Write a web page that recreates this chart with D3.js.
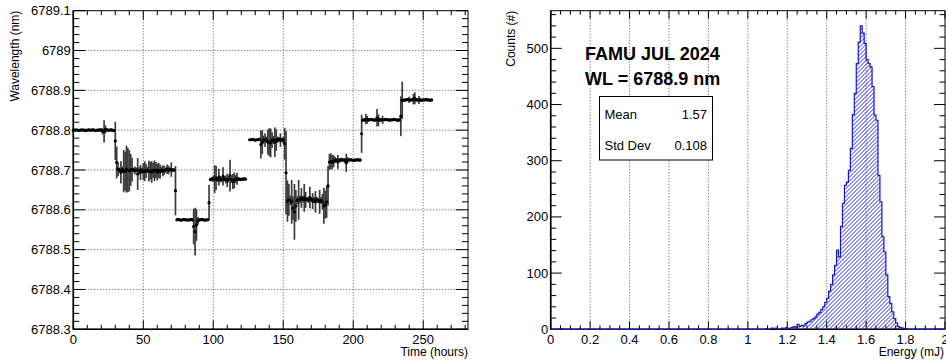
<!DOCTYPE html>
<html><head><meta charset="utf-8">
<script src="https://cdn.jsdelivr.net/npm/d3@7"></script>
<style>
body{margin:0;background:#fff}
svg{display:block;font-family:"Liberation Sans",Arial,Helvetica,sans-serif}
</style></head><body>
<svg id="c" width="946" height="360"></svg>
<script>
// wavelength vs time, one point per hour: [hour, wavelength (nm), error (nm)]
const runA = [[0,6788.800,0.002],[1,6788.800,0.002],[2,6788.801,0.002],[3,6788.800,0.002],[4,6788.799,0.002],[5,6788.800,0.002],
  [6,6788.801,0.002],[7,6788.800,0.002],[8,6788.800,0.002],[9,6788.799,0.002],[10,6788.800,0.002],[11,6788.801,0.002],
  [12,6788.800,0.002],[13,6788.800,0.002],[14,6788.801,0.003],[15,6788.800,0.002],[16,6788.799,0.002],[17,6788.800,0.003],
  [18,6788.800,0.002],[19,6788.801,0.003],[20,6788.800,0.004],[21,6788.797,0.008],[22,6788.797,0.028],[23,6788.802,0.010],
  [24,6788.801,0.004],[25,6788.800,0.003],[26,6788.800,0.002],[27,6788.801,0.003],[28,6788.800,0.003],[29,6788.799,0.004],
  [30,6788.773,0.048],[31,6788.719,0.040]]
const runB = [[32,6788.702,0.017],[33,6788.700,0.006],[34,6788.694,0.028],[35,6788.701,0.008],[36,6788.697,0.053],
  [37,6788.697,0.049],[38,6788.702,0.059],[39,6788.700,0.055],[40,6788.698,0.052],[41,6788.700,0.040],[42,6788.701,0.030],
  [43,6788.700,0.006],[44,6788.699,0.010],[45,6788.700,0.006],[46,6788.690,0.040],[47,6788.699,0.008],[48,6788.694,0.019],
  [49,6788.700,0.006],[50,6788.696,0.021],[51,6788.697,0.025],[52,6788.698,0.018],[53,6788.700,0.008],[54,6788.697,0.026],
  [55,6788.698,0.022],[56,6788.695,0.027],[57,6788.699,0.019],[58,6788.698,0.026],[59,6788.700,0.020],[60,6788.695,0.021],
  [61,6788.699,0.019],[62,6788.696,0.018],[63,6788.700,0.008],[64,6788.698,0.014],[65,6788.699,0.011],[66,6788.700,0.006],
  [67,6788.702,0.012],[68,6788.700,0.011],[69,6788.701,0.006],[70,6788.701,0.018],[71,6788.700,0.005],[72,6788.700,0.004],
  [73,6788.648,0.062]]
const runC = [[74,6788.575,0.003],[75,6788.576,0.002],[76,6788.575,0.002],[77,6788.574,0.002],[78,6788.575,0.002],
  [79,6788.576,0.002],[80,6788.575,0.002],[81,6788.575,0.003],[82,6788.574,0.002],[83,6788.575,0.002],[84,6788.576,0.002],
  [85,6788.575,0.004],[86,6788.558,0.045],[87,6788.545,0.060],[88,6788.562,0.040],[89,6788.572,0.010],[90,6788.575,0.003],
  [91,6788.575,0.002],[92,6788.576,0.002],[93,6788.575,0.002],[94,6788.574,0.002],[95,6788.575,0.002],[96,6788.575,0.003],
  [97,6788.618,0.045]]
const runD = [[98,6788.676,0.004],[99,6788.677,0.005],[100,6788.678,0.008],[101,6788.677,0.035],[102,6788.680,0.030],
  [103,6788.676,0.006],[104,6788.682,0.021],[105,6788.677,0.008],[106,6788.676,0.006],[107,6788.684,0.023],[108,6788.677,0.006],
  [109,6788.676,0.010],[110,6788.674,0.017],[111,6788.677,0.008],[112,6788.686,0.040],[113,6788.676,0.008],[114,6788.671,0.019],
  [115,6788.674,0.020],[116,6788.677,0.010],[117,6788.678,0.015],[118,6788.677,0.005],[119,6788.677,0.003],[120,6788.676,0.003],
  [121,6788.677,0.004],[122,6788.678,0.003],[123,6788.677,0.003]]
const runE = [[126,6788.776,0.002],[127,6788.776,0.002],[128,6788.777,0.002],[129,6788.776,0.002],[130,6788.775,0.002],
  [131,6788.776,0.002],[132,6788.776,0.003],[133,6788.777,0.004],[134,6788.764,0.035],[135,6788.770,0.030],[136,6788.776,0.010],
  [137,6788.775,0.017],[138,6788.776,0.008],[139,6788.770,0.031],[140,6788.770,0.035],[141,6788.768,0.036],[142,6788.775,0.020],
  [143,6788.776,0.010],[144,6788.770,0.037],[145,6788.775,0.027],[146,6788.776,0.008],[147,6788.777,0.006],[148,6788.775,0.017],
  [149,6788.776,0.005],[150,6788.775,0.008],[151,6788.766,0.040],[152,6788.693,0.105]]
const runF = [[153,6788.622,0.052],[154,6788.625,0.040],[155,6788.624,0.012],[156,6788.620,0.055],[157,6788.604,0.030],
  [158,6788.595,0.070],[159,6788.610,0.040],[160,6788.624,0.010],[161,6788.625,0.050],[162,6788.626,0.010],[163,6788.630,0.025],
  [164,6788.626,0.008],[165,6788.630,0.035],[166,6788.625,0.020],[167,6788.626,0.006],[168,6788.625,0.008],[169,6788.631,0.027],
  [170,6788.626,0.006],[171,6788.622,0.020],[172,6788.625,0.008],[173,6788.620,0.027],[174,6788.625,0.008],[175,6788.624,0.006],
  [176,6788.620,0.030],[177,6788.624,0.008],[178,6788.620,0.020],[179,6788.610,0.045],[180,6788.613,0.035],[181,6788.620,0.040],
  [182,6788.660,0.050]]
const runG = [[183,6788.720,0.020],[184,6788.722,0.020],[185,6788.720,0.018],[186,6788.722,0.015],[187,6788.725,0.008],
  [188,6788.725,0.005],[189,6788.720,0.018],[190,6788.725,0.004],[191,6788.725,0.006],[192,6788.726,0.004],[193,6788.725,0.004],
  [194,6788.724,0.006],[195,6788.718,0.023],[196,6788.725,0.008],[197,6788.725,0.003],[198,6788.726,0.003],[199,6788.725,0.003],
  [200,6788.724,0.003],[201,6788.725,0.003],[202,6788.725,0.003],[203,6788.726,0.003],[204,6788.725,0.003],[205,6788.725,0.004],
  [206,6788.791,0.048]]
const runH = [[207,6788.825,0.004],[208,6788.826,0.004],[209,6788.828,0.013],[210,6788.826,0.010],[211,6788.826,0.004],
  [212,6788.826,0.003],[213,6788.827,0.003],[214,6788.826,0.003],[215,6788.825,0.003],[216,6788.826,0.004],[217,6788.831,0.022],
  [218,6788.825,0.015],[219,6788.826,0.005],[220,6788.826,0.004],[221,6788.826,0.010],[222,6788.826,0.003],[223,6788.827,0.003],
  [224,6788.826,0.003],[225,6788.826,0.003],[226,6788.825,0.003],[227,6788.826,0.003],[228,6788.826,0.003],[229,6788.827,0.003],
  [230,6788.826,0.003],[231,6788.826,0.003],[232,6788.825,0.003],[233,6788.826,0.004],[234,6788.835,0.050],[235,6788.875,0.047]]
const runI = [[236,6788.875,0.004],[237,6788.876,0.003],[238,6788.876,0.003],[239,6788.877,0.003],[240,6788.876,0.008],
  [241,6788.876,0.003],[242,6788.876,0.003],[243,6788.878,0.013],[244,6788.880,0.015],[245,6788.876,0.004],[246,6788.876,0.003],
  [247,6788.876,0.010],[248,6788.876,0.003],[249,6788.875,0.003],[250,6788.876,0.003],[251,6788.876,0.003],[252,6788.877,0.003],
  [253,6788.876,0.003],[254,6788.876,0.003],[255,6788.875,0.003],[256,6788.876,0.003]]

// energy histogram, 0.01 mJ bins: lower edge and counts (empty bins omitted)
const binWidth = 0.01
const energyLow = [0.05, 1.09, 1.11, 1.12, 1.13, 1.14, 1.16, 1.17, 1.18, 1.19, 1.20, 1.21, 1.22, 1.23, 1.24, 1.25, 1.26, 1.27,
  1.28, 1.29, 1.30, 1.31, 1.32, 1.33, 1.34, 1.35, 1.36, 1.37, 1.38, 1.39, 1.40, 1.41, 1.42, 1.43, 1.44, 1.45, 1.46, 1.47,
  1.48, 1.49, 1.50, 1.51, 1.52, 1.53, 1.54, 1.55, 1.56, 1.57, 1.58, 1.59, 1.60, 1.61, 1.62, 1.63, 1.64, 1.65, 1.66, 1.67,
  1.68, 1.69, 1.70, 1.71, 1.72, 1.73, 1.74, 1.75, 1.76, 1.77, 1.78, 1.79, 1.80]
const counts = [1, 1, 1, 2, 1, 2, 1, 2, 1, 3, 1, 2, 3, 5, 3, 9, 5, 7,
  6, 10, 13, 14, 17, 19, 22, 27, 30, 35, 40, 48, 55, 68, 80, 97, 114, 141, 129, 183,
  224, 256, 262, 283, 322, 382, 420, 473, 511, 540, 527, 509, 480, 473, 467, 432, 381, 372, 274, 227,
  165, 138, 97, 58, 46, 31, 19, 11, 5, 3, 2, 1, 1]

const statLabels = ['Mean', 'Std Dev']
const statValues = ['1.57', '0.108']
const titleLines = ['FAMU JUL 2024', 'WL = 6788.9 nm']

const svg = d3.select('#c')
svg.append('rect').attr('width', 946).attr('height', 360).attr('fill', '#fff')
const defs = svg.append('defs')

const xL = d3.scaleLinear().domain([0, 282]).range([73.3, 468])
const yL = d3.scaleLinear().domain([6788.3, 6789.1]).range([329.3, 10.7])
const xR = d3.scaleLinear().domain([0, 2]).range([550.7, 945])
const yR = d3.scaleLinear().domain([0, 567]).range([329.3, 10.7])

const fmt = v => String(+v.toFixed(1))

// ROOT-like frame: grid, ticks inside on all four sides, labels
function drawFrame(sx, sy, o) {
  const [x0, x1] = sx.range(), [y0, y1] = sy.range()
  const g = svg.append('g')
  const isMaj = (v, step) => Math.abs(v / step - Math.round(v / step)) < 1e-6
  const xMajor = sx.ticks(o.xN), yMajor = sy.ticks(o.yN)
  const xStep = xMajor[1] - xMajor[0], yStep = yMajor[1] - yMajor[0]

  const grid = g.append('g').attr('stroke', '#555').attr('stroke-dasharray', '1,2').attr('stroke-width', 1)
  grid.selectAll('.gx').data(xMajor.filter(v => sx(v) > x0 + 1 && sx(v) < x1 - 1)).join('line')
    .attr('x1', d => sx(d)).attr('x2', d => sx(d)).attr('y1', y0).attr('y2', y1)
  if (o.gridY) grid.selectAll('.gy').data(yMajor.filter(v => sy(v) < y0 - 1 && sy(v) > y1 + 1)).join('line')
    .attr('y1', d => sy(d)).attr('y2', d => sy(d)).attr('x1', x0).attr('x2', x1)

  const t = g.append('g').attr('stroke', '#000').attr('stroke-width', 1)
  sx.ticks(o.xMinorN).forEach(v => {
    const L = isMaj(v, xStep) ? o.xLen : o.xLen / 2
    t.append('line').attr('x1', sx(v)).attr('x2', sx(v)).attr('y1', y0).attr('y2', y0 - L)
    t.append('line').attr('x1', sx(v)).attr('x2', sx(v)).attr('y1', y1).attr('y2', y1 + L)
  })
  sy.ticks(o.yMinorN).forEach(v => {
    const L = isMaj(v, yStep) ? o.yLen : o.yLen / 2
    t.append('line').attr('y1', sy(v)).attr('y2', sy(v)).attr('x1', x0).attr('x2', x0 + L)
    t.append('line').attr('y1', sy(v)).attr('y2', sy(v)).attr('x1', x1).attr('x2', x1 - L)
  })

  g.append('rect').attr('x', x0).attr('y', y1).attr('width', x1 - x0).attr('height', y0 - y1)
    .attr('fill', 'none').attr('stroke', '#000').attr('stroke-width', 1)
  g.append('line').attr('x1', x0).attr('x2', x0).attr('y1', y1).attr('y2', y0).attr('stroke', '#000').attr('stroke-width', 1.6)
  g.append('line').attr('x1', x0).attr('x2', x1).attr('y1', y0).attr('y2', y0).attr('stroke', '#000').attr('stroke-width', 1.6)

  const lab = g.append('g').attr('font-size', 13).attr('fill', '#000')
  lab.selectAll('.lx').data(xMajor).join('text')
    .attr('x', d => sx(d)).attr('y', y0 + 14.2).attr('text-anchor', 'middle').text(fmt)
  lab.selectAll('.ly').data(yMajor).join('text')
    .attr('x', x0 - 2.5).attr('y', d => sy(d)).attr('dy', '0.35em').attr('text-anchor', 'end').text(fmt)

  g.append('text').attr('font-size', 12).attr('text-anchor', 'end')
    .attr('x', o.xTitleX).attr('y', 355.5).text(o.xTitle)
  g.append('text').attr('font-size', 12).attr('text-anchor', 'end')
    .attr('transform', `translate(${o.yTitleX},${y1}) rotate(-90)`).text(o.yTitle)
  return g
}

// ---- left: wavelength vs time
drawFrame(xL, yL, { xN: 6, xMinorN: 28, yN: 8, yMinorN: 40, xLen: 9, yLen: 12, gridY: true,
  xTitle: 'Time (hours)', xTitleX: 468, yTitle: 'Wavelength (nm)', yTitleX: 19 })

const points = [...runA, ...runB, ...runC, ...runD, ...runE, ...runF, ...runG, ...runH, ...runI]
const gp = svg.append('g')
gp.selectAll('.err').data(points).join('line')
  .attr('x1', d => xL(d[0])).attr('x2', d => xL(d[0]))
  .attr('y1', d => yL(d[1] - d[2])).attr('y2', d => yL(d[1] + d[2]))
  .attr('stroke', '#3c3c3c').attr('stroke-width', 1.7)
gp.selectAll('.pt').data(points).join('circle')
  .attr('cx', d => xL(d[0])).attr('cy', d => yL(d[1])).attr('r', 1.6).attr('fill', '#000')

// ---- right: energy histogram
const hist = d3.range(200).map(i => ({ lo: i * binWidth, n: 0 }))
energyLow.forEach((e, i) => { hist[Math.round(e / binWidth)].n = counts[i] })
const steps = [[0, 0]]
hist.forEach(b => { steps.push([b.lo, b.n], [b.lo + binWidth, b.n]) })
steps.push([2, 0])
const line = d3.line().x(d => xR(d[0])).y(d => yR(d[1]))

drawFrame(xR, yR, { xN: 10, xMinorN: 40, yN: 6, yMinorN: 30, xLen: 8, yLen: 11, gridY: false,
  xTitle: 'Energy (mJ)', xTitleX: 944, yTitle: 'Counts (#)', yTitleX: 514.5 })

// hatch (ROOT style 3004): diagonal blue lines clipped to the histogram area
defs.append('clipPath').attr('id', 'hclip').append('path').attr('d', line(steps) + 'Z')
const hx0 = xR(1.0), hx1 = xR(1.9), hTop = yR(560), hBot = yR(0)
const hatch = svg.append('g').attr('clip-path', 'url(#hclip)')
  .attr('stroke', '#2626dc').attr('stroke-width', 1)
d3.range(hx0 - (hBot - hTop), hx1, 4).forEach(x => {
  hatch.append('line').attr('x1', x).attr('y1', hBot).attr('x2', x + (hBot - hTop)).attr('y2', hTop)
})
svg.append('path').attr('d', line(steps)).attr('fill', 'none').attr('stroke', '#1818b8').attr('stroke-width', 1.2)

const tx = svg.append('g').attr('font-size', 18).attr('font-weight', 'bold')
tx.selectAll('text').data(titleLines).join('text')
  .attr('x', 585).attr('y', (d, i) => 59.5 + i * 25).text(d => d)

const box = svg.append('g').attr('font-size', 13)
box.append('rect').attr('x', 599.5).attr('y', 96.5).attr('width', 113).attr('height', 63.5)
  .attr('fill', '#fff').attr('stroke', '#000').attr('stroke-width', 1)
box.selectAll('.sl').data(statLabels).join('text')
  .attr('x', 604.5).attr('y', (d, i) => 118.8 + i * 31.5).text(d => d)
box.selectAll('.sv').data(statValues).join('text')
  .attr('x', 707).attr('y', (d, i) => 118.8 + i * 31.5).attr('text-anchor', 'end').text(d => d)
</script>
</body></html>
